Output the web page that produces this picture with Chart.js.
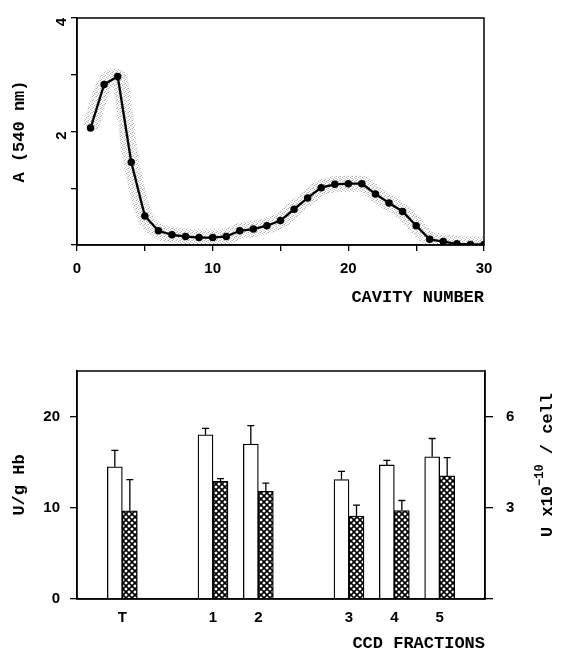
<!DOCTYPE html>
<html>
<head>
<meta charset="utf-8">
<script src="https://cdn.jsdelivr.net/npm/chart.js@4.4.1/dist/chart.umd.min.js"></script>
<style>
  html, body { margin: 0; padding: 0; background: #fff; }
  #wrap1 { position: absolute; left: 0; top: 0; width: 561px; height: 310px; }
  #wrap2 { position: absolute; left: 0; top: 340px; width: 561px; height: 312px; }
</style>
</head>
<body>
<div id="wrap1"><canvas id="profileChart" width="561" height="310"></canvas></div>
<div id="wrap2"><canvas id="fractionChart" width="561" height="312"></canvas></div>
<script>
'use strict'

// upper panel: absorbance along the CCD train
const cavity = [1, 2, 3, 4, 5, 6, 7, 8, 9, 10, 11, 12, 13, 14, 15,
  16, 17, 18, 19, 20, 21, 22, 23, 24, 25, 26, 27, 28, 29, 30];
const absorbance = [2.06, 2.83, 2.97, 1.46, 0.51, 0.25, 0.18, 0.15, 0.13, 0.13,
  0.15, 0.25, 0.28, 0.34, 0.43, 0.63, 0.83, 1.01, 1.07, 1.08,
  1.08, 0.90, 0.74, 0.59, 0.34, 0.10, 0.06, 0.02, 0.01, 0.01];

// lower panel: activity in pooled fractions (empty slots are gaps on the axis)
const fractions = ['', 'T', '', '1', '2', '', '3', '4', '5', ''];
const hbActivity = [null, 14.5, null, 18.0, 17.0, null, 13.1, 14.7, 15.6, null];
const hbError = [null, 16.3, null, 18.7, 19.0, null, 14.0, 15.2, 17.6, null];
const cellActivity = [null, 2.9, null, 3.87, 3.54, null, 2.73, 2.91, 4.05, null];
const cellError = [null, 3.93, null, 3.96, 3.81, null, 3.09, 3.24, 4.65, null];

const titleFont = { family: "'Liberation Mono', 'Courier New', monospace", weight: 'bold', size: 17 };
const tickFont = { family: "'Liberation Sans', Arial, sans-serif", weight: 'bold', size: 15 };

const frame = {
  id: 'frame',
  afterDatasetsDraw(chart) {
    const a = chart.chartArea;
    const ctx = chart.ctx;
    ctx.save();
    ctx.strokeStyle = '#000';
    ctx.lineWidth = 1.5;
    ctx.strokeRect(a.left, a.top, a.right - a.left, a.bottom - a.top);
    ctx.restore();
  }
};

const errorBars = {
  id: 'errorBars',
  afterDatasetsDraw(chart) {
    const ctx = chart.ctx;
    ctx.save();
    ctx.strokeStyle = '#000';
    ctx.lineWidth = 1.3;
    chart.data.datasets.forEach((ds, i) => {
      if (!ds.errors) return;
      const meta = chart.getDatasetMeta(i);
      const scale = chart.scales[ds.yAxisID];
      meta.data.forEach((bar, j) => {
        const e = ds.errors[j];
        if (e == null) return;
        const yE = scale.getPixelForValue(e);
        ctx.beginPath();
        ctx.moveTo(bar.x, bar.y);
        ctx.lineTo(bar.x, yE);
        ctx.moveTo(bar.x - 3.5, yE);
        ctx.lineTo(bar.x + 3.5, yE);
        ctx.stroke();
      });
    });
    ctx.restore();
  }
};

const rightTitle = {
  id: 'rightTitle',
  afterDraw(chart) {
    const a = chart.chartArea;
    const ctx = chart.ctx;
    const big = "bold 17px 'Liberation Mono', 'Courier New', monospace";
    const small = "bold 12px 'Liberation Mono', 'Courier New', monospace";
    const parts = [['U x10', big, 0], ['\u221210', small, -8], [' / cell', big, 0]];
    ctx.save();
    ctx.translate(a.right + 63, (a.top + a.bottom) / 2 - 20);
    ctx.rotate(-Math.PI / 2);
    ctx.fillStyle = '#000';
    ctx.textBaseline = 'middle';
    let total = 0;
    parts.forEach(p => { ctx.font = p[1]; total += ctx.measureText(p[0]).width; });
    let x = -total / 2;
    parts.forEach(p => {
      ctx.font = p[1];
      ctx.fillText(p[0], x, p[2]);
      x += ctx.measureText(p[0]).width;
    });
    ctx.restore();
  }
};

// stipple for the shaded band and cross-hatch for the per-cell bars
function makeHatch() {
  const c = document.createElement('canvas');
  c.width = 6; c.height = 6;
  const g = c.getContext('2d');
  g.fillStyle = '#fff';
  g.fillRect(0, 0, 6, 6);
  g.strokeStyle = '#000';
  g.lineWidth = 1.6;
  g.beginPath();
  g.moveTo(-1, -1); g.lineTo(7, 7);
  g.moveTo(7, -1); g.lineTo(-1, 7);
  g.stroke();
  return g.createPattern(c, 'repeat');
}

function makeStipple() {
  const c = document.createElement('canvas');
  c.width = 4; c.height = 4;
  const g = c.getContext('2d');
  g.fillStyle = 'rgba(120,120,120,0.6)';
  g.fillRect(0, 0, 1, 1);
  g.fillRect(2, 1, 1, 1);
  g.fillRect(1, 3, 1, 1);
  g.fillStyle = 'rgba(170,170,170,0.45)';
  g.fillRect(3, 2, 1, 1);
  g.fillRect(0, 2, 1, 1);
  g.fillRect(3, 0, 1, 1);
  return g.createPattern(c, 'repeat');
}

const points = cavity.map((c, i) => ({ x: c, y: absorbance[i] }));

new Chart(document.getElementById('profileChart'), {
  type: 'line',
  data: {
    datasets: [{
      data: points,
      borderColor: '#000',
      backgroundColor: '#000',
      borderWidth: 2.3,
      pointRadius: 2.6,
      pointBackgroundColor: '#000',
      tension: 0,
      order: 0
    }, {
      data: points,
      borderColor: makeStipple(),
      borderWidth: 16,
      pointRadius: 0,
      cubicInterpolationMode: 'monotone',
      order: 1
    }]
  },
  options: {
    responsive: false,
    animation: false,
    layout: { padding: { top: 17, right: 77, left: 0, bottom: 0 } },
    plugins: { legend: { display: false }, tooltip: { enabled: false } },
    scales: {
      x: {
        type: 'linear',
        min: 0,
        max: 30,
        afterFit: s => { s.height = 65; },
        grid: { drawOnChartArea: false, drawTicks: true, tickLength: 6, color: '#000', lineWidth: 1.3 },
        border: { display: true, color: '#000', width: 1.5 },
        ticks: {
          stepSize: 5,
          padding: 9,
          color: '#000',
          font: tickFont,
          maxRotation: 0,
          callback: v => (v % 10 === 0 ? v : '')
        },
        title: { display: true, text: 'CAVITY NUMBER', align: 'end', color: '#000', font: titleFont, padding: { top: 0, bottom: 2 } }
      },
      y: {
        min: 0,
        max: 4,
        afterFit: s => { s.width = 77; },
        grid: { drawOnChartArea: false, drawTicks: true, tickLength: 6, color: '#000', lineWidth: 1.3 },
        border: { display: true, color: '#000', width: 1.5 },
        ticks: {
          stepSize: 1,
          padding: 9,
          minRotation: 90,
          color: '#000',
          font: tickFont,
          callback: v => (v === 2 || v === 4 ? v : '')
        },
        title: { display: true, text: 'A (540 nm)', color: '#000', font: titleFont, padding: { top: 10, bottom: 0 } }
      }
    }
  },
  plugins: [frame]
});

new Chart(document.getElementById('fractionChart'), {
  type: 'bar',
  data: {
    labels: fractions,
    datasets: [{
      data: hbActivity,
      errors: hbError,
      yAxisID: 'y',
      backgroundColor: '#fff',
      borderColor: '#000',
      borderWidth: 1.3,
      barThickness: 15
    }, {
      data: cellActivity,
      errors: cellError,
      yAxisID: 'y1',
      backgroundColor: makeHatch(),
      borderColor: '#000',
      borderWidth: 1.3,
      barThickness: 15
    }]
  },
  options: {
    responsive: false,
    animation: false,
    layout: { padding: { top: 31, right: 0, left: 0, bottom: 0 } },
    plugins: { legend: { display: false }, tooltip: { enabled: false } },
    scales: {
      x: {
        offset: false,
        afterFit: s => { s.height = 53; },
        grid: { display: false, drawTicks: false },
        border: { display: true, color: '#000', width: 1.5 },
        ticks: { padding: 10, color: '#000', font: tickFont, maxRotation: 0, autoSkip: false },
        title: { display: true, text: 'CCD FRACTIONS', align: 'end', color: '#000', font: { ...titleFont, lineHeight: 1 }, padding: { top: 0, bottom: 0 } }
      },
      y: {
        position: 'left',
        min: 0,
        max: 25,
        afterFit: s => { s.width = 77; },
        grid: {
          drawOnChartArea: false, drawTicks: true, tickLength: 7, lineWidth: 1.3,
          color: c => (c.tick && c.tick.value > 20 ? 'rgba(0,0,0,0)' : '#000')
        },
        border: { display: true, color: '#000', width: 1.5 },
        ticks: {
          stepSize: 10,
          padding: 10,
          color: '#000',
          font: tickFont,
          callback: v => (v > 20 ? '' : v)
        },
        title: { display: true, text: 'U/g Hb', color: '#000', font: titleFont, padding: { top: 10, bottom: 0 } }
      },
      y1: {
        position: 'right',
        min: 0,
        max: 7.5,
        afterFit: s => { s.width = 76; },
        grid: {
          drawOnChartArea: false, drawTicks: true, tickLength: 8, lineWidth: 1.3,
          color: c => (c.tick && c.tick.value > 6 ? 'rgba(0,0,0,0)' : '#000')
        },
        border: { display: true, color: '#000', width: 1.5 },
        ticks: {
          stepSize: 3,
          padding: 13,
          color: '#000',
          font: tickFont,
          callback: v => (v === 3 || v === 6 ? v : '')
        }
      }
    }
  },
  plugins: [frame, errorBars, rightTitle]
});
</script>
</body>
</html>
